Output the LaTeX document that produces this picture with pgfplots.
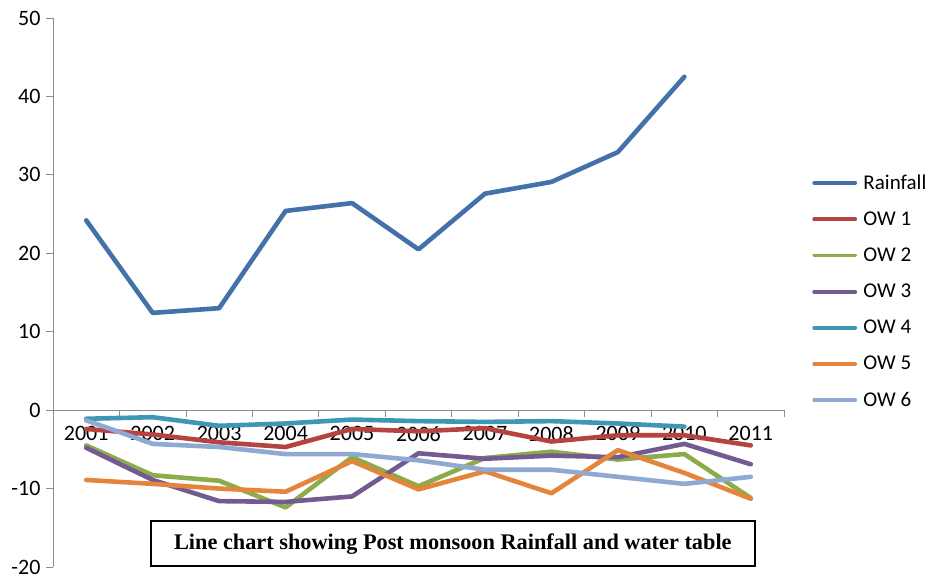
\documentclass[border=0pt]{standalone}
\usepackage{fontspec}
\setmainfont{Carlito}
\newfontfamily\titlefont{Liberation Serif}
\usepackage{pgfplots}
\pgfplotsset{compat=1.18}

\definecolor{cRain}{HTML}{4471AA}
\definecolor{cOWa}{HTML}{B54340}
\definecolor{cOWb}{HTML}{8CAB4B}
\definecolor{cOWc}{HTML}{735A92}
\definecolor{cOWd}{HTML}{3E98B3}
\definecolor{cOWe}{HTML}{E4853B}
\definecolor{cOWf}{HTML}{8EAAD2}
\definecolor{axgray}{HTML}{8C8C8C}

\begin{document}
\begin{tikzpicture}
\useasboundingbox (-53pt,-9pt) rectangle (880pt,567pt);
\begin{axis}[
  name=ax,
  scale only axis,
  width=731pt, height=549pt,
  xmin=0.5, xmax=11.5,
  ymin=-20, ymax=50,
  ytick={-20,-10,...,50},
  axis y line=left,
  axis x line=middle,
  axis line style={draw=axgray, line width=0.8pt, -},
  xtick={1,...,11},
  xticklabels={2001,2002,2003,2004,2005,2006,2007,2008,2009,2010,2011},
  minor xtick={1.5,2.5,...,11.5},
  major x tick style={draw=none},
  minor x tick style={draw=axgray, line width=0.8pt},
  minor tick length=7pt,
  y tick style={draw=axgray, line width=0.8pt},
  major tick length=7pt,
  tick align=outside,
  /pgf/number format/assume math mode=true,
  xticklabel style={anchor=north, yshift=-6pt},
  yticklabel style={xshift=-2pt},
  tick label style={font=\fontsize{22}{26}\selectfont, text=black},
  every axis plot/.append style={line width=4.6pt, line join=round, line cap=round, mark=none},
  legend cell align=left,
  legend style={
    draw=none, fill=none,
    at={(1.0343,0.502)}, anchor=west,
    font=\fontsize{21}{25}\selectfont,
    row sep=19pt,
    nodes={inner sep=1pt},
  },
  legend image code/.code={\draw[#1, line width=3.8pt] (0pt,0pt) -- (41pt,0pt); \path (46pt,0pt);},
  clip=false,
]
\addplot[cRain] coordinates {(1,24.2) (2,12.4) (3,13.0) (4,25.4) (5,26.4) (6,20.5) (7,27.6) (8,29.1) (9,32.9) (10,42.5)};
\addlegendentry{Rainfall}
\addplot[cOWa] coordinates {(1,-2.4) (2,-3.1) (3,-4.1) (4,-4.7) (5,-2.4) (6,-2.7) (7,-2.3) (8,-4.0) (9,-3.2) (10,-3.2) (11,-4.5)};
\addlegendentry{OW 1}
\addplot[cOWb] coordinates {(1,-4.5) (2,-8.3) (3,-9.0) (4,-12.4) (5,-6.0) (6,-9.7) (7,-6.1) (8,-5.3) (9,-6.3) (10,-5.6) (11,-11.2)};
\addlegendentry{OW 2}
\addplot[cOWc] coordinates {(1,-4.8) (2,-8.9) (3,-11.6) (4,-11.7) (5,-11.0) (6,-5.5) (7,-6.2) (8,-5.8) (9,-6.0) (10,-4.3) (11,-6.9)};
\addlegendentry{OW 3}
\addplot[cOWd] coordinates {(1,-1.1) (2,-0.9) (3,-2.0) (4,-1.7) (5,-1.2) (6,-1.4) (7,-1.5) (8,-1.4) (9,-1.7) (10,-2.1)};
\addlegendentry{OW 4}
\addplot[cOWe] coordinates {(1,-8.9) (2,-9.4) (3,-10.0) (4,-10.4) (5,-6.5) (6,-10.1) (7,-7.8) (8,-10.6) (9,-5.1) (10,-8.0) (11,-11.3)};
\addlegendentry{OW 5}
\addplot[cOWf] coordinates {(1,-1.3) (2,-4.3) (3,-4.7) (4,-5.6) (5,-5.6) (6,-6.4) (7,-7.6) (8,-7.6) (9,-8.5) (10,-9.4) (11,-8.5)};
\addlegendentry{OW 6}
\node[draw=black, line width=1.6pt, fill=white, minimum width=604pt, minimum height=45pt,
      anchor=south, font=\titlefont\bfseries\fontsize{22.3}{26}\selectfont]
  at (rel axis cs:0.547,0) {Line chart showing Post monsoon Rainfall and water table};
\end{axis}
\end{tikzpicture}
\end{document}
